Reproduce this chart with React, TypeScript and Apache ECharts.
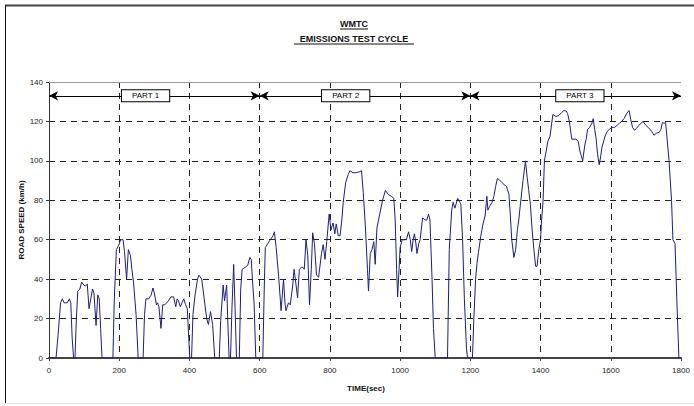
import React, { useEffect, useRef } from "react";
import * as echarts from "echarts";

// WMTC road speed trace: time (s) and speed (km/h)
const timeSec: number[] = [
  0, 20, 26, 33, 38, 43, 52, 58, 62, 66, 70, 74, 78, 82, 88, 93, 99, 104, 109, 114,
  119, 124, 128, 131, 134, 139, 143, 147, 151, 182, 186, 192, 198, 204, 211, 215, 221, 226, 232, 236,
  241, 248, 254, 268, 272, 276, 284, 291, 296, 300, 306, 309, 313, 319, 324, 330, 340, 347, 355, 361,
  365, 369, 374, 379, 384, 389, 394, 398, 401, 406, 410, 416, 423, 427, 435, 442, 449, 454, 460, 466,
  472, 485, 489, 496, 500, 506, 509, 513, 517, 521, 526, 530, 534, 542, 546, 550, 559, 566, 572, 576,
  580, 584, 589, 609, 613, 616, 623, 630, 638, 642, 647, 654, 661, 668, 672, 675, 682, 687, 694, 698,
  703, 708, 713, 719, 723, 727, 732, 737, 742, 747, 751, 756, 762, 768, 776, 781, 786, 791, 798, 803,
  809, 814, 818, 824, 829, 834, 838, 845, 852, 857, 866, 875, 885, 890, 895, 901, 907, 910, 915, 920,
  925, 929, 934, 942, 950, 958, 966, 975, 982, 986, 990, 993, 997, 1000, 1006, 1013, 1018, 1024, 1029, 1033,
  1037, 1041, 1045, 1048, 1053, 1057, 1064, 1072, 1076, 1081, 1085, 1088, 1091, 1095, 1100, 1135, 1140, 1147, 1151, 1156,
  1164, 1170, 1173, 1178, 1183, 1189, 1192, 1206, 1210, 1215, 1219, 1223, 1230, 1236, 1242, 1247, 1250, 1255, 1262, 1267,
  1272, 1277, 1282, 1290, 1296, 1303, 1310, 1314, 1318, 1324, 1329, 1334, 1338, 1342, 1350, 1357, 1362, 1366, 1371, 1376,
  1381, 1386, 1390, 1395, 1400, 1403, 1407, 1411, 1416, 1421, 1427, 1435, 1444, 1452, 1460, 1466, 1473, 1477, 1482, 1489,
  1495, 1501, 1507, 1512, 1520, 1526, 1530, 1534, 1540, 1546, 1550, 1554, 1558, 1562, 1567, 1571, 1575, 1584, 1590, 1596,
  1603, 1611, 1618, 1624, 1631, 1638, 1645, 1652, 1657, 1662, 1668, 1673, 1680, 1686, 1692, 1700, 1706, 1712, 1716, 1723,
  1730, 1738, 1743, 1747, 1752, 1756, 1760, 1766, 1773, 1777, 1783, 1788, 1794, 1800,
];

const speedKmh: number[] = [
  0, 0, 12, 28, 30, 28, 28, 30, 28, 10, 0, 0, 20, 34, 35, 38.5, 37, 36.5, 37.5, 25,
  30, 35, 33, 25, 16.5, 32, 30, 15, 0, 0, 30, 55, 57, 60, 60, 54, 40, 55, 52, 45,
  38, 22, 0, 0, 22, 30, 30, 32, 35.5, 33, 27, 28, 26, 15, 27, 27, 29, 31, 31, 26,
  30, 29, 26, 28, 30, 27, 25, 10, 0, 0, 22, 32, 40, 42, 40, 30, 20, 17, 23.5, 17,
  0, 0, 19, 37, 29, 37, 20, 0, 0, 25, 47.5, 25, 0, 0, 35, 45, 46, 47, 51, 50,
  38, 28, 0, 0, 35, 56, 58, 60, 62, 64, 56, 41.5, 24, 40, 28, 24, 28, 27, 36.5, 45,
  38, 30.5, 45, 46, 46, 45, 60, 52, 27, 45, 63.5, 58, 42, 41, 53, 57.5, 50, 59, 73, 65,
  68.5, 63, 68, 62, 62, 70, 79, 89, 93, 95, 94, 94, 94.5, 95, 84, 67, 45, 34, 53, 55,
  59, 47.5, 66, 73, 80, 85, 83, 82, 81, 70, 45, 31, 45, 56, 60, 60, 60, 64, 60, 54,
  60, 63, 58, 53, 58, 60, 71, 70, 70, 73, 70, 55, 40, 15, 0, 0, 55, 75, 79, 76,
  81, 79, 78, 60, 30, 5, 0, 0, 20, 40, 48, 53.5, 62, 68, 72, 82, 75, 77, 79, 82,
  87, 91, 90.5, 89, 88, 87, 83, 72, 60, 51, 55, 65, 70, 77, 90, 100, 91.5, 85.5, 78, 65,
  55, 46.5, 46.5, 55, 60, 70, 79, 100, 105, 110, 112.5, 123.5, 122.5, 123, 124.5, 125.5, 125.3, 124, 120, 111,
  111, 111, 110, 105, 100, 108, 111, 116, 117, 119, 121.4, 116, 111.8, 104, 98, 102, 107, 112.6, 115, 116,
  117, 117, 118, 119, 120, 121.5, 124, 125.5, 121, 117, 115.5, 116.5, 118, 119, 120, 118, 117, 116, 115, 113,
  114, 114.5, 116, 119.5, 119, 119.5, 112, 100, 80, 60, 58, 30, 0, 0,
];

// Test phases and their label positions
const partBounds: number[] = [0, 600, 1200, 1800];
const partNames: string[] = ["PART 1", "PART 2", "PART 3"];
const partLabelTime: number[] = [275, 845, 1512];
const partMarkerSpeed = 133;

const xTicks = { min: 0, max: 1800, interval: 200 };
const yTicks = { min: 0, max: 140, interval: 20 };

const FONT = "'Liberation Sans', Arial, sans-serif";

export default function App() {
  const ref = useRef<HTMLDivElement>(null);

  useEffect(() => {
    if (!ref.current) return;
    const chart = echarts.init(ref.current, undefined, { renderer: "svg" });

    const lineData = timeSec.map((t, i) => [t, speedKmh[i]]);
    const arrowData = partNames.map((_, i) => [
      { coord: [partBounds[i], partMarkerSpeed] },
      { coord: [partBounds[i + 1], partMarkerSpeed] },
    ]);
    const labelData = partNames.map((name, i) => ({
      name,
      value: [partLabelTime[i], partMarkerSpeed],
    }));

    chart.setOption({
      animation: false,
      backgroundColor: "#ffffff",
      textStyle: { fontFamily: FONT },
      grid: { left: 49, right: 13, top: 82, bottom: 48, containLabel: false },
      xAxis: {
        type: "value",
        min: xTicks.min,
        max: xTicks.max,
        interval: xTicks.interval,
        axisLine: { show: true, onZero: false, lineStyle: { color: "#444", width: 2 } },
        axisTick: { show: true, length: 3, lineStyle: { color: "#444" } },
        axisLabel: {
          fontFamily: FONT,
          fontSize: 8,
          color: "#222",
          margin: 8,
          formatter: (v: number) => String(v),
        },
        splitLine: {
          show: true,
          showMinLine: false,
          showMaxLine: false,
          lineStyle: { color: "#222", width: 1, type: [6, 5] },
        },
      },
      yAxis: {
        type: "value",
        min: yTicks.min,
        max: yTicks.max,
        interval: yTicks.interval,
        axisLine: { show: true, lineStyle: { color: "#333", width: 1 } },
        axisTick: { show: true, length: 3, lineStyle: { color: "#333" } },
        axisLabel: { fontFamily: FONT, fontSize: 8, color: "#222", margin: 6 },
        splitLine: {
          show: true,
          showMinLine: false,
          showMaxLine: false,
          lineStyle: { color: "#222", width: 1, type: [6, 5] },
        },
      },
      series: [
        {
          type: "line",
          data: lineData,
          showSymbol: false,
          symbol: "none",
          lineStyle: { color: "#1c1c8c", width: 1 },
          z: 5,
          markLine: {
            silent: true,
            symbol: "none",
            label: { show: false },
            lineStyle: { color: "#999", width: 1, type: "solid" },
            data: [{ yAxis: yTicks.max }],
          },
        },
        {
          type: "line",
          data: [],
          markLine: {
            silent: true,
            symbol: ["arrow", "arrow"],
            symbolSize: [7, 9],
            label: { show: false },
            lineStyle: { color: "#000", width: 1, type: "solid" },
            data: arrowData,
          },
        },
        {
          type: "scatter",
          data: labelData,
          symbolSize: 0,
          z: 10,
          itemStyle: { opacity: 1 },
          label: {
            show: true,
            position: "inside",
            formatter: "{b}",
            fontFamily: FONT,
            fontSize: 8,
            color: "#000",
            opacity: 1,
            backgroundColor: "#ffffff",
            borderColor: "#000",
            borderWidth: 1,
            padding: [2, 10, 1, 10],
          },
        },
      ],
      graphic: [
        // outer frame
        { type: "line", shape: { x1: 5, y1: 5.5, x2: 694, y2: 5.5 }, style: { stroke: "#444", lineWidth: 2 } },
        { type: "line", shape: { x1: 5.5, y1: 5, x2: 5.5, y2: 403 }, style: { stroke: "#111", lineWidth: 1 } },
        { type: "line", shape: { x1: 5, y1: 403.5, x2: 694, y2: 403.5 }, style: { stroke: "#e2e2e2", lineWidth: 1 } },
        // titles with underlines
        {
          type: "text",
          x: 354,
          y: 24,
          style: { text: "WMTC", font: `bold 9px ${FONT}`, fill: "#111", align: "center", verticalAlign: "middle" },
        },
        { type: "line", shape: { x1: 340, y1: 29, x2: 368, y2: 29 }, style: { stroke: "#111", lineWidth: 1 } },
        {
          type: "text",
          x: 354,
          y: 39,
          style: {
            text: "EMISSIONS TEST CYCLE",
            font: `bold 9px ${FONT}`,
            fill: "#111",
            align: "center",
            verticalAlign: "middle",
          },
        },
        { type: "line", shape: { x1: 294, y1: 44, x2: 414, y2: 44 }, style: { stroke: "#111", lineWidth: 1 } },
        // axis names
        {
          type: "text",
          x: 21,
          y: 220,
          rotation: Math.PI / 2,
          style: {
            text: "ROAD SPEED (km/h)",
            font: `bold 8px ${FONT}`,
            fill: "#111",
            align: "center",
            verticalAlign: "middle",
          },
        },
        {
          type: "text",
          x: 366,
          y: 388,
          style: {
            text: "TIME(sec)",
            font: `bold 8px ${FONT}`,
            fill: "#111",
            align: "center",
            verticalAlign: "middle",
          },
        },
      ],
    });

    return () => chart.dispose();
  }, []);

  return (
    <div
      ref={ref}
      style={{ position: "fixed", left: 0, top: 0, width: 694, height: 406, background: "#fff" }}
    />
  );
}
